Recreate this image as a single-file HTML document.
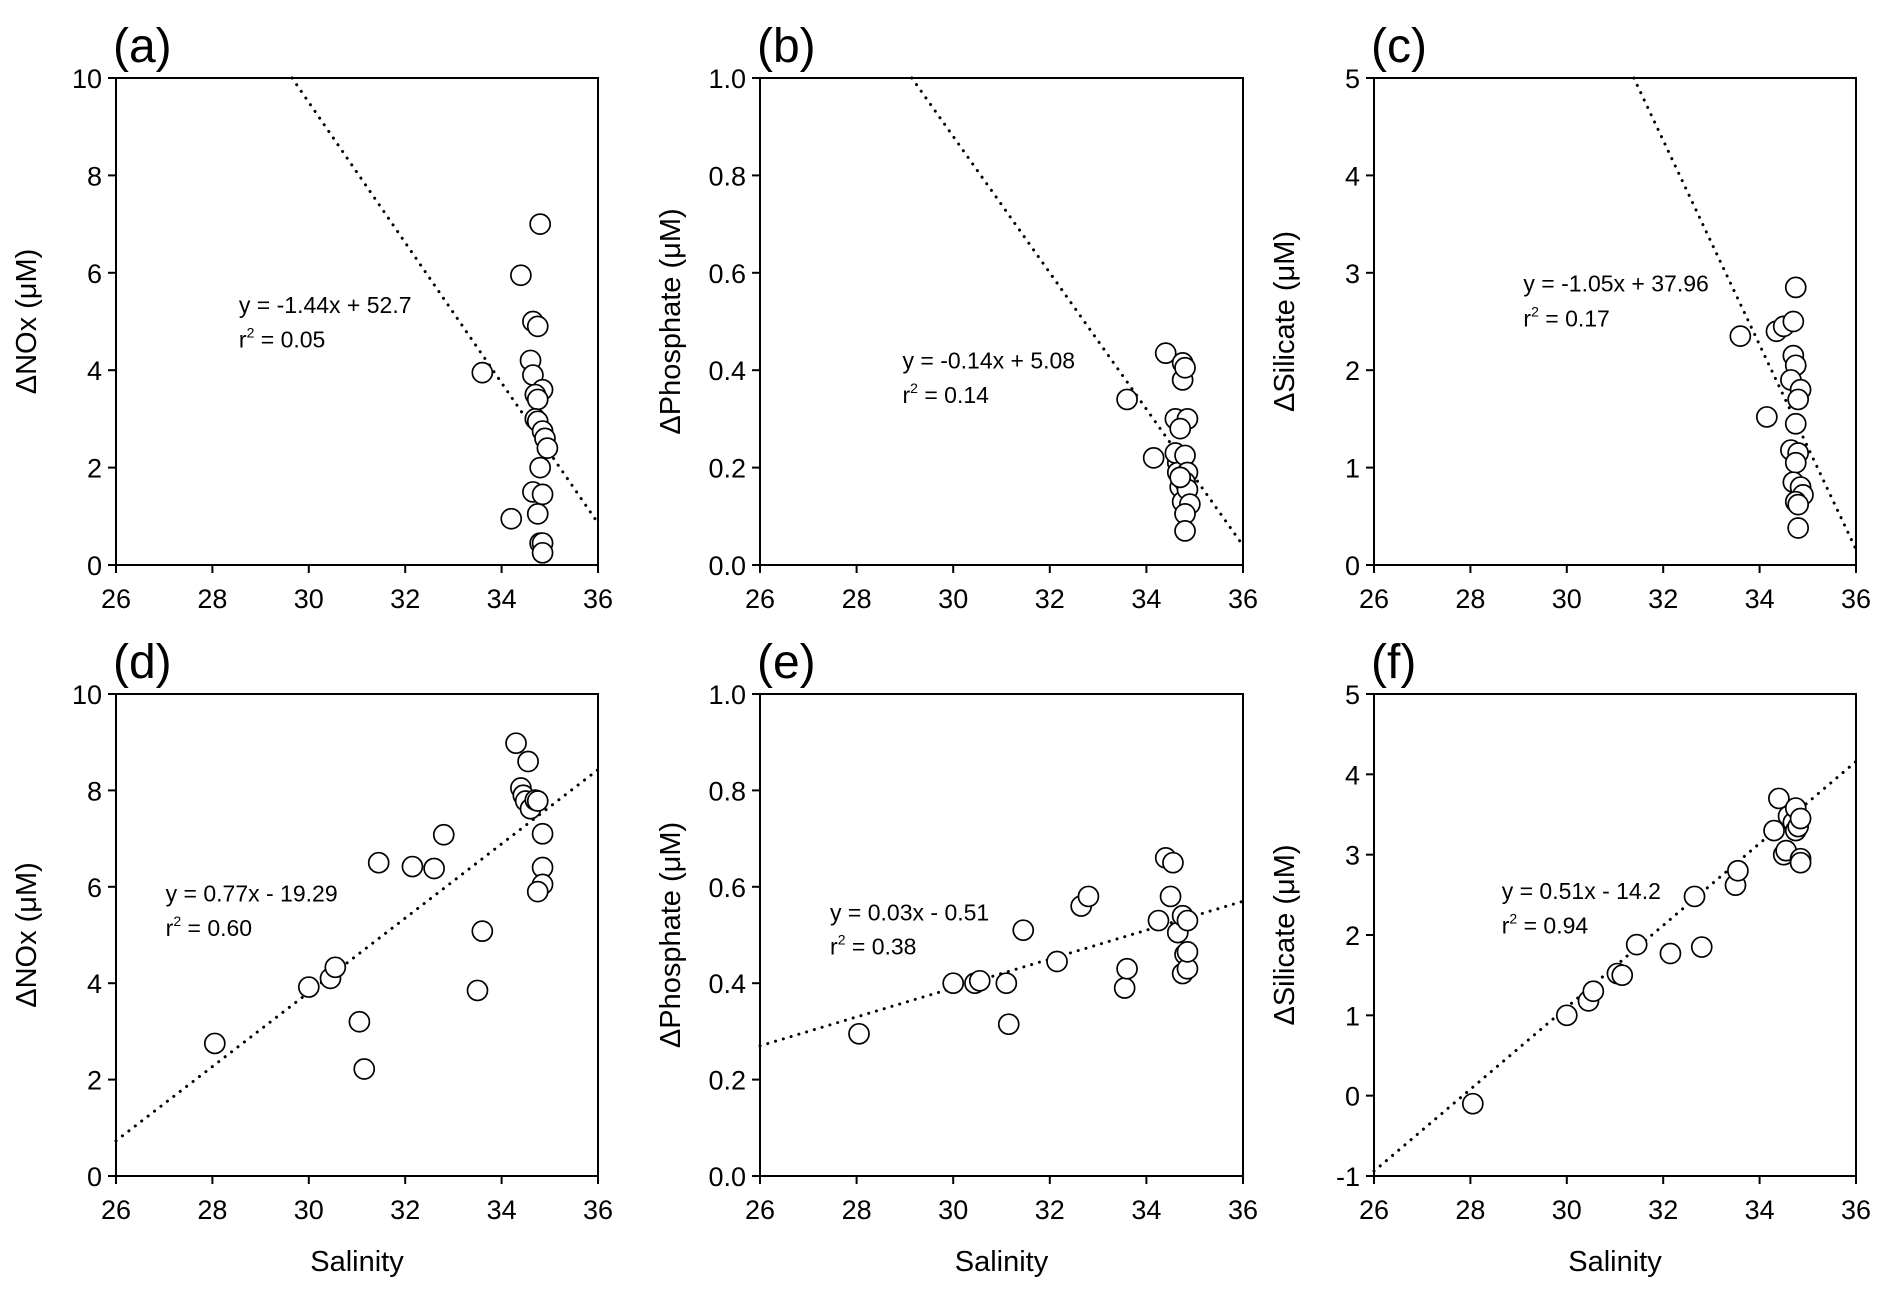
<!DOCTYPE html>
<html><head><meta charset="utf-8"><style>
body{margin:0;background:#fff}
svg{display:block;font-family:"Liberation Sans",Arial,sans-serif}
</style></head><body>
<svg id="fig" width="1892" height="1297" viewBox="0 0 1892 1297" xmlns="http://www.w3.org/2000/svg"></svg>
<script>
const xTicks=[26,28,30,32,34,36];
const aX=[33.6,34.2,34.4,34.6,34.65,34.75,34.65,34.8,34.85,34.7,34.75,34.7,34.75,34.85,34.9,34.95,34.8,34.65,34.85,34.75,34.8,34.85,34.85];
const aY=[3.95,0.95,5.95,4.2,5.0,4.9,3.9,7.0,3.6,3.5,3.4,3.0,2.95,2.75,2.6,2.4,2.0,1.5,1.45,1.05,0.45,0.45,0.25];
const bX=[33.6,34.15,34.4,34.6,34.65,34.6,34.65,34.7,34.75,34.75,34.8,34.85,34.7,34.8,34.85,34.8,34.75,34.85,34.9,34.8,34.8,34.7];
const bY=[0.34,0.22,0.435,0.30,0.21,0.23,0.19,0.16,0.415,0.38,0.405,0.30,0.28,0.225,0.19,0.17,0.13,0.155,0.125,0.105,0.07,0.18];
const cX=[33.6,34.15,34.35,34.5,34.7,34.75,34.7,34.75,34.65,34.85,34.8,34.75,34.65,34.8,34.75,34.7,34.85,34.9,34.75,34.8,34.8];
const cY=[2.35,1.52,2.4,2.45,2.5,2.85,2.15,2.05,1.9,1.8,1.7,1.45,1.18,1.15,1.05,0.85,0.8,0.72,0.65,0.62,0.38];
const dX=[28.05,30.0,30.45,30.55,31.05,31.15,31.45,32.15,32.6,32.8,33.5,33.6,34.3,34.55,34.4,34.45,34.5,34.6,34.7,34.75,34.85,34.85,34.85,34.75];
const dY=[2.75,3.92,4.1,4.33,3.2,2.22,6.5,6.42,6.38,7.08,3.85,5.08,8.98,8.6,8.05,7.9,7.78,7.62,7.8,7.78,7.1,6.4,6.05,5.9];
const eX=[28.05,30.0,30.45,30.55,31.1,31.15,31.45,32.15,32.65,32.8,33.55,33.6,34.25,34.4,34.5,34.55,34.65,34.75,34.8,34.85,34.75,34.85,34.85];
const eY=[0.295,0.40,0.40,0.405,0.40,0.315,0.51,0.445,0.56,0.58,0.39,0.43,0.53,0.66,0.58,0.65,0.505,0.54,0.46,0.53,0.42,0.43,0.465];
const fX=[28.05,30.0,30.45,30.55,31.05,31.15,31.45,32.15,32.65,32.8,33.5,33.55,34.3,34.4,34.5,34.55,34.6,34.7,34.75,34.75,34.8,34.85,34.85,34.85];
const fY=[-0.1,1.0,1.18,1.3,1.52,1.5,1.88,1.77,2.48,1.85,2.62,2.8,3.3,3.7,3.0,3.05,3.48,3.4,3.58,3.3,3.35,3.45,2.95,2.9];
const ticksNOx=["0","2","4","6","8","10"];
const ticksP=["0.0","0.2","0.4","0.6","0.8","1.0"];
const ticksSiTop=["0","1","2","3","4","5"];
const ticksSiBot=["-1","0","1","2","3","4","5"];
const slopes=[-1.44,-0.14,-1.05,0.77,0.03,0.51];
const intercepts=[52.7,5.08,37.96,-19.29,-0.51,-14.2];
const eqLabels=["y = -1.44x + 52.7","y = -0.14x + 5.08","y = -1.05x + 37.96","y = 0.77x - 19.29","y = 0.03x - 0.51","y = 0.51x - 14.2"];
const r2Labels=["0.05","0.14","0.17","0.60","0.38","0.94"];

const NS="http://www.w3.org/2000/svg";
const svg=document.getElementById('fig');
function mk(tag,attrs,parent){const e=document.createElementNS(NS,tag);for(const k in attrs)e.setAttribute(k,attrs[k]);(parent||svg).appendChild(e);return e;}

const panels=[
 {id:'a',L:116,R:598,T:78,B:565,ymin:0,ymax:10,ticks:ticksNOx,xs:aX,ys:aY,title:'ΔNOx (μM)',tx:28.55,ty:[5.17,4.47],xlab:false},
 {id:'b',L:760,R:1243,T:78,B:565,ymin:0,ymax:1,ticks:ticksP,xs:bX,ys:bY,title:'ΔPhosphate (μM)',tx:28.95,ty:[0.403,0.333],xlab:false},
 {id:'c',L:1374,R:1856,T:78,B:565,ymin:0,ymax:5,ticks:ticksSiTop,xs:cX,ys:cY,title:'ΔSilicate (μM)',tx:29.1,ty:[2.81,2.45],xlab:false},
 {id:'d',L:116,R:598,T:694,B:1176,ymin:0,ymax:10,ticks:ticksNOx,xs:dX,ys:dY,title:'ΔNOx (μM)',tx:27.03,ty:[5.7,4.98],xlab:true},
 {id:'e',L:760,R:1243,T:694,B:1176,ymin:0,ymax:1,ticks:ticksP,xs:eX,ys:eY,title:'ΔPhosphate (μM)',tx:27.45,ty:[0.53,0.46],xlab:true},
 {id:'f',L:1374,R:1856,T:694,B:1176,ymin:-1,ymax:5,ticks:ticksSiBot,xs:fX,ys:fY,title:'ΔSilicate (μM)',tx:28.65,ty:[2.45,2.02],xlab:true}
];

panels.forEach((p,i)=>{
 const g=mk('g',{});
 
 
 const sx=v=>p.L+(v-26)/10*(p.R-p.L);
 const sy=v=>p.B-(v-p.ymin)/(p.ymax-p.ymin)*(p.B-p.T);
 const lab=mk('text',{x:p.L-3,y:p.T-16,'font-size':48,fill:'#000'},g);lab.textContent='('+p.id+')';
 
 
 const frame=mk('rect',{x:p.L,y:p.T,width:p.R-p.L,height:p.B-p.T,fill:'none',stroke:'#000','stroke-width':2},g);
 
 
 xTicks.forEach(t=>{
  const x=sx(t);
  mk('line',{x1:x,x2:x,y1:p.B,y2:p.B+8,stroke:'#000','stroke-width':2},g);
  const tl=mk('text',{x:x,y:p.B+43,'font-size':27,'text-anchor':'middle',fill:'#000'},g);tl.textContent=t;
  
  
 });
 p.ticks.forEach(t=>{
  const y=sy(parseFloat(t));
  mk('line',{x1:p.L-8,x2:p.L,y1:y,y2:y,stroke:'#000','stroke-width':2},g);
  const tl=mk('text',{x:p.L-14,y:y+10,'font-size':27,'text-anchor':'end',fill:'#000'},g);tl.textContent=t;
  
  
 });
 const cy=(p.T+p.B)/2;
 const yt=mk('text',{x:0,y:0,'font-size':29,'text-anchor':'middle',fill:'#000',transform:`translate(${p.L-80},${cy}) rotate(-90)`},g);yt.textContent=p.title;
 
 
 if(p.xlab){
  const xt=mk('text',{x:(p.L+p.R)/2,y:p.B+95,'font-size':29,'text-anchor':'middle',fill:'#000'},g);xt.textContent='Salinity';
  
  
 }
 const m=slopes[i],b=intercepts[i];
 let x0=26,x1=36;
 const xa=(p.ymax-b)/m,xb=(p.ymin-b)/m;
 const lo=Math.min(xa,xb),hi=Math.max(xa,xb);
 x0=Math.max(x0,lo);x1=Math.min(x1,hi);
 const ln=mk('line',{x1:sx(x0),y1:sy(m*x0+b),x2:sx(x1),y2:sy(m*x1+b),stroke:'#000','stroke-width':3,'stroke-dasharray':'0.1 8','stroke-linecap':'round'},g);
 
 
 p.xs.forEach((xv,k)=>{
  const c=mk('circle',{cx:sx(xv),cy:sy(p.ys[k]),r:10,fill:'#fff',stroke:'#000','stroke-width':1.7},g);
  
  
 });
 const e1=mk('text',{x:sx(p.tx),y:sy(p.ty[0]),'font-size':23,fill:'#000'},g);e1.textContent=eqLabels[i];
 
 
 const e2=mk('text',{x:sx(p.tx),y:sy(p.ty[1]),'font-size':23,fill:'#000'},g);
 
 
 const s1=mk('tspan',{},e2);s1.textContent='r';
 const s2=mk('tspan',{'font-size':14,dy:-10},e2);s2.textContent='2';
 const s3=mk('tspan',{dy:10},e2);s3.textContent=' = '+r2Labels[i];
});
</script>
</body></html>
